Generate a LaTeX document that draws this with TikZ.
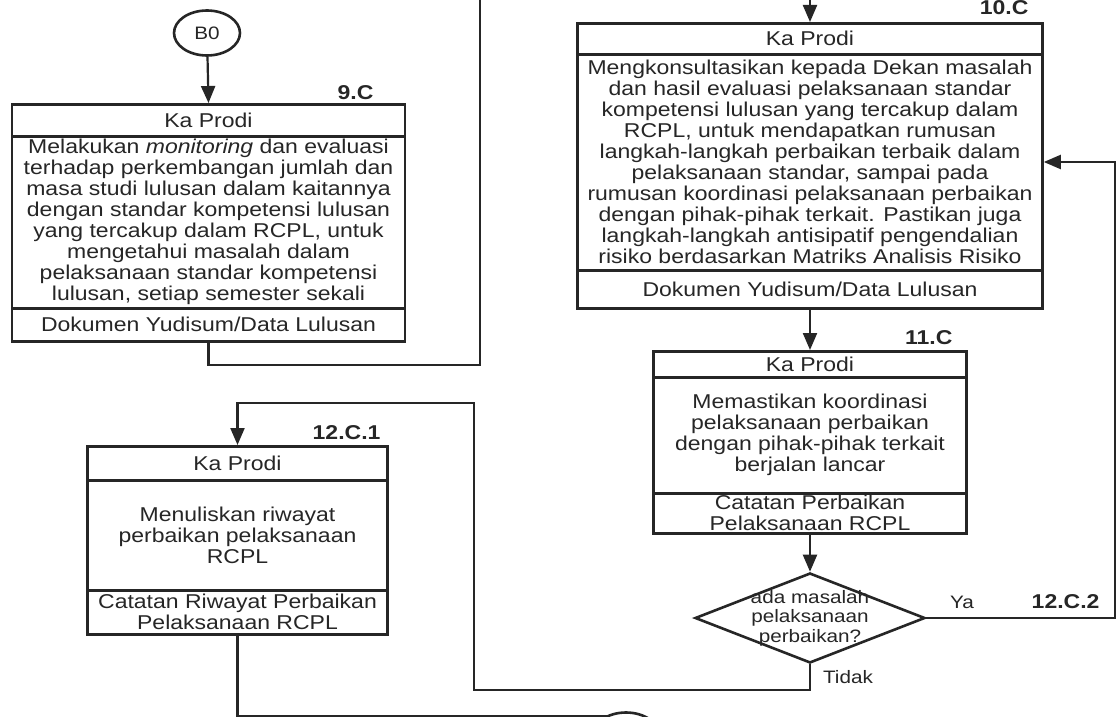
\documentclass[tikz,border=0pt]{standalone}
\usepackage{fontspec}
\setmainfont{Liberation Sans}[FakeStretch=1.15]
\usetikzlibrary{arrows.meta,shapes.geometric}
\begin{document}
\begin{tikzpicture}[x=1pt,y=-1pt,
  every node/.style={font=\fontsize{20}{21}\selectfont, text=black!85},
  part/.style={draw=black!85, line width=2.6pt, anchor=north, inner sep=0pt, align=center},
  conn/.style={draw=black!85, line width=2.2pt},
  arr/.style={conn, -{Triangle[length=17pt,width=14pt]}},
  tag/.style={font=\bfseries\fontsize{20}{21}\selectfont, anchor=east, text=black!85},
  lbl/.style={font=\fontsize{18}{19.5}\selectfont, align=center},
  conncirc/.style={draw=black!85, ellipse, line width=2.6pt, minimum width=66pt, minimum height=45pt, inner sep=0pt},
  dia/.style={draw=black!85, diamond, line width=2.6pt, minimum width=230pt, minimum height=90pt, inner sep=0pt}
]
\clip (0,0) rectangle (1117,717);
\fill[white] (0,0) rectangle (1117,717);

% connector B0
\node[conncirc, font=\fontsize{18}{19}\selectfont] (b0) at (207,33) {B0};

% box 9.C
\node[part, minimum width=393pt, minimum height=32pt] (b9h) at (208.5,103) {Ka Prodi};
\node[part, minimum width=393pt, minimum height=172pt] (b9b) at (208.5,135)
  {Melakukan \textit{monitoring} dan evaluasi\\
   terhadap perkembangan jumlah dan\\
   masa studi lulusan dalam kaitannya\\
   dengan standar kompetensi lulusan\\
   yang tercakup dalam RCPL, untuk\\
   mengetahui masalah dalam\\
   pelaksanaan standar kompetensi\\
   lulusan, setiap semester sekali};
\node[part, minimum width=393pt, minimum height=33pt] (b9d) at (208.5,307) {Dokumen Yudisum/Data Lulusan};
\node[tag] (l9) at (377,93) {9.C};

% box 10.C
\node[part, minimum width=465pt, minimum height=31pt] (b10h) at (810,22) {Ka Prodi};
\node[part, minimum width=465pt, minimum height=216pt] (b10b) at (810,53)
  {Mengkonsultasikan kepada Dekan masalah\\
   dan hasil evaluasi pelaksanaan standar\\
   kompetensi lulusan yang tercakup dalam\\
   RCPL, untuk mendapatkan rumusan\\
   langkah-langkah perbaikan terbaik dalam\\
   pelaksanaan standar, sampai pada\\
   rumusan koordinasi pelaksanaan perbaikan\\
   dengan pihak-pihak terkait. Pastikan juga\\
   langkah-langkah antisipatif pengendalian\\
   risiko berdasarkan Matriks Analisis Risiko};
\node[part, minimum width=465pt, minimum height=38pt] (b10d) at (810,269) {Dokumen Yudisum/Data Lulusan};
\node[tag] (l10) at (1032,8) {10.C};

% box 11.C
\node[part, minimum width=313pt, minimum height=26pt] (b11h) at (810,350) {Ka Prodi};
\node[part, minimum width=313pt, minimum height=116pt] (b11b) at (810,376)
  {Memastikan koordinasi\\
   pelaksanaan perbaikan\\
   dengan pihak-pihak terkait\\
   berjalan lancar};
\node[part, minimum width=313pt, minimum height=40pt] (b11d) at (810,492)
  {Catatan Perbaikan\\Pelaksanaan RCPL};
\node[tag] (l11) at (956,338) {11.C};

% decision
\node[dia] (d) at (810,618) {};
\node[lbl] (dt) at (810,618) {ada masalah\\pelaksanaan\\perbaikan?};
\node[lbl] (ya) at (962,602) {Ya};
\node[lbl] (tidak) at (848,677) {Tidak};
\node[tag] (l122) at (1103,602) {12.C.2};

% box 12.C.1
\node[part, minimum width=300pt, minimum height=34pt] (b12h) at (237.5,445) {Ka Prodi};
\node[part, minimum width=300pt, minimum height=110pt] (b12b) at (237.5,479)
  {Menuliskan riwayat\\
   perbaikan pelaksanaan\\
   RCPL};
\node[part, minimum width=300pt, minimum height=44pt] (b12d) at (237.5,589)
  {Catatan Riwayat Perbaikan\\Pelaksanaan RCPL};
\node[tag] (l121) at (384,433) {12.C.1};

% off-page connector at the bottom
\node[conncirc] (c1) at (626,735) {};

% connectors
\coordinate (k1) at (480,365);
\coordinate (t1) at (480,-5);
\coordinate (t2) at (810,-5);
\coordinate (r1) at (1115,618);
\coordinate (r2) at (1115,162);
\coordinate (n1) at (474,690);
\coordinate (n2) at (474,403);
\coordinate (bb) at (237.5,716);
\coordinate (cin) at (607,716);

\draw[arr] (b0) -- (b9h.north);
\draw[conn] (b9d.south) |- (k1) -- (t1);
\draw[arr] (t2) -- (b10h.north);
\draw[arr] (b10d.south) -- (b11h.north);
\draw[arr] (b11d.south) -- (d.north);
\draw[arr] (d.east) -- (r1) -- (r2) -- (r2 -| b10b.east);
\draw[arr] (d.south) |- (n1) -- (n2) -| (b12h.north);
\draw[conn] (b12d.south) -- (bb) -- (cin);
\end{tikzpicture}
\end{document}
